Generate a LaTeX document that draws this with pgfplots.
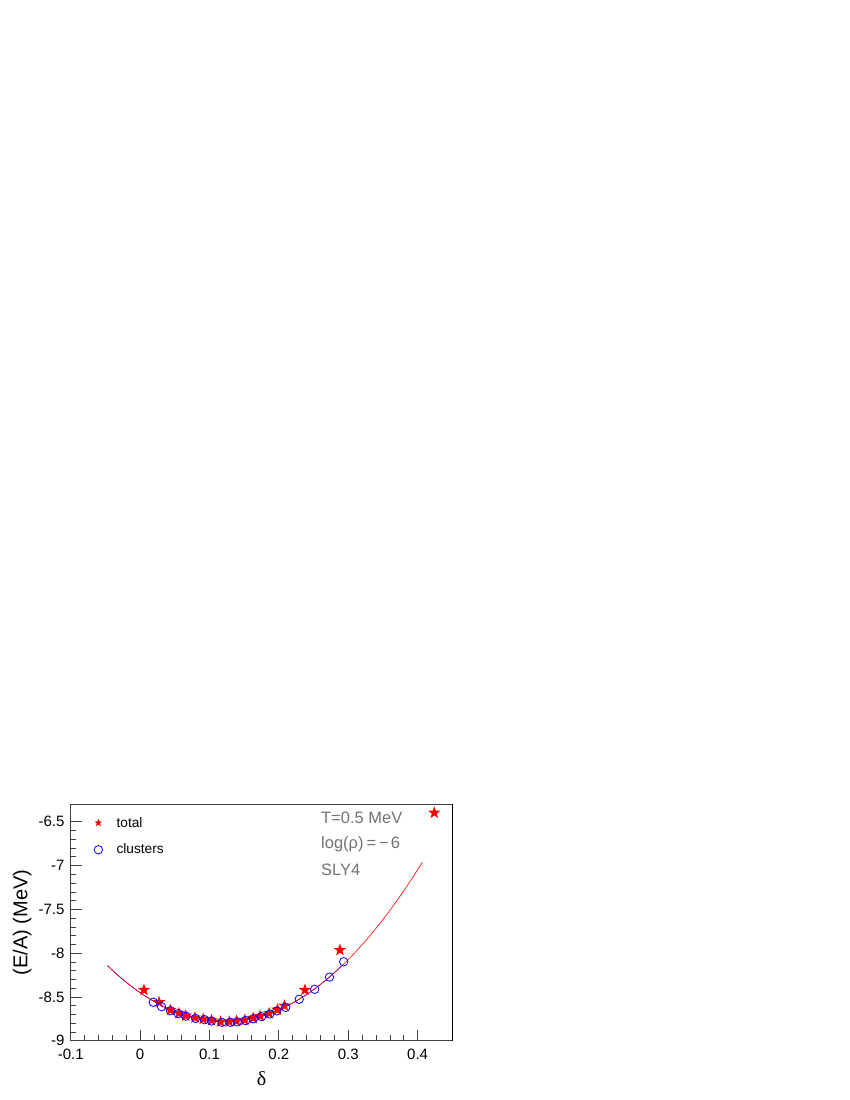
\documentclass[border=0pt]{standalone}
\usepackage{pgfplots}
\pgfplotsset{compat=1.18}
\usepackage{fontspec}
\setmainfont{Liberation Sans}
\newfontfamily\seriffont{Liberation Serif}
\pgfdeclareplotmark{fstar}{%
  \pgfpathmoveto{\pgfqpointpolar{90}{\pgfplotmarksize}}%
  \pgfpathlineto{\pgfqpointpolar{126}{0.40\pgfplotmarksize}}%
  \pgfpathlineto{\pgfqpointpolar{162}{\pgfplotmarksize}}%
  \pgfpathlineto{\pgfqpointpolar{198}{0.40\pgfplotmarksize}}%
  \pgfpathlineto{\pgfqpointpolar{234}{\pgfplotmarksize}}%
  \pgfpathlineto{\pgfqpointpolar{270}{0.40\pgfplotmarksize}}%
  \pgfpathlineto{\pgfqpointpolar{306}{\pgfplotmarksize}}%
  \pgfpathlineto{\pgfqpointpolar{342}{0.40\pgfplotmarksize}}%
  \pgfpathlineto{\pgfqpointpolar{18}{\pgfplotmarksize}}%
  \pgfpathlineto{\pgfqpointpolar{54}{0.40\pgfplotmarksize}}%
  \pgfpathclose\pgfusepathqfill}
\begin{document}
\begin{tikzpicture}[x=1pt,y=1pt]
\path[use as bounding box] (0,0) rectangle (850,1100);
\begin{axis}[
  at={(70.7pt,59.3pt)}, anchor=south west,
  scale only axis, width=381.6pt, height=236.4pt,
  xmin=-0.1, xmax=0.45, ymin=-9, ymax=-6.3,
  xtick={-0.1,0,0.1,0.2,0.3,0.4},
  ytick={-9,-8.5,-8,-7.5,-7,-6.5},
  minor x tick num=4, minor y tick num=4,
  xtick pos=left, ytick pos=left,
  major tick length=11pt, minor tick length=5.5pt,
  axis line style={black!75, line width=0.8pt},
  every tick/.style={black!75, line width=0.7pt},
  /pgf/number format/assume math mode=true,
  /pgf/number format/fixed,
  ticklabel style={font=\fontsize{15}{18}\selectfont},
  xticklabel style={yshift=-4.3pt},
  yticklabel style={xshift=-2.7pt},
  xlabel={\seriffont δ},
  xlabel style={at={(axis description cs:0.5,-0.1916)}, anchor=base, font=\fontsize{20}{24}\selectfont},
  ylabel={(E/A) (MeV)},
  ylabel style={at={(axis description cs:-0.1268,0.5)}, anchor=center, font=\fontsize{20}{24}\selectfont},
  legend style={at={(axis description cs:0.061,0.955)}, anchor=north west, draw=none, fill=none,
    font=\fontsize{13.7}{16}\selectfont, row sep=11.5pt, column sep=12pt, inner sep=0pt},
  legend cell align=left,
  clip=false,
]
% blue fit (clusters)
\addplot[blue, line width=0.6pt, smooth, forget plot] coordinates {
(-0.047,-8.143) (-0.03,-8.266) (-0.01,-8.394) (0.01,-8.503) (0.03,-8.595)
(0.05,-8.669) (0.07,-8.724) (0.09,-8.762) (0.11,-8.782) (0.13,-8.784)
(0.15,-8.767) (0.17,-8.733) (0.19,-8.681) (0.21,-8.611) (0.23,-8.523)
(0.25,-8.417) (0.27,-8.293) (0.29,-8.151)
};
% red fit (total)
\addplot[red, line width=0.6pt, smooth, forget plot] coordinates {
(-0.047,-8.143) (-0.03,-8.266) (-0.01,-8.394) (0.01,-8.503) (0.03,-8.595)
(0.05,-8.669) (0.07,-8.724) (0.09,-8.762) (0.11,-8.782) (0.13,-8.784)
(0.15,-8.767) (0.17,-8.733) (0.19,-8.681) (0.21,-8.611) (0.23,-8.523)
(0.25,-8.417) (0.27,-8.293) (0.29,-8.151) (0.31,-7.991) (0.33,-7.813)
(0.35,-7.617) (0.37,-7.403) (0.39,-7.171) (0.407,-6.960)
};
% total
\addplot[only marks, mark=fstar, mark size=6.5pt, color=red, fill=red,
  legend image post style={mark size=4.2pt}] coordinates {
(0.0056,-8.421) (0.0274,-8.561) (0.0436,-8.650) (0.056,-8.687) (0.0657,-8.715)
(0.079,-8.737) (0.091,-8.752) (0.103,-8.767) (0.116,-8.783) (0.1286,-8.783)
(0.139,-8.775) (0.151,-8.764) (0.163,-8.741) (0.173,-8.718) (0.186,-8.687)
(0.198,-8.646) (0.208,-8.600) (0.2376,-8.421) (0.288,-7.965) (0.424,-6.397)
};
\addlegendentry{total}
% clusters
\addplot[only marks, mark=o, mark size=4.2pt, color=blue, line width=0.8pt] coordinates {
(0.019,-8.561) (0.031,-8.612) (0.0437,-8.657) (0.055,-8.69) (0.066,-8.72)
(0.08,-8.745) (0.093,-8.76) (0.103,-8.775) (0.118,-8.79) (0.13,-8.79)
(0.14,-8.785) (0.152,-8.77) (0.163,-8.75) (0.175,-8.725) (0.187,-8.695)
(0.197,-8.66) (0.21,-8.62) (0.2294,-8.527) (0.2516,-8.413) (0.273,-8.273)
(0.2934,-8.098)
};
\addlegendentry{clusters}
\draw[black, line width=0.8pt] (rel axis cs:1,0) -- (rel axis cs:1,1);
\begin{scope}[every node/.style={anchor=base west, inner sep=0pt, text=black!55, font=\fontsize{16.5}{20}\selectfont}]
\node at (axis cs:0.2607,-6.518) {T=0.5 MeV};
\node at (axis cs:0.2607,-6.808) {log(ρ)\hspace{3pt}=\hspace{3pt}−\hspace{2pt}6};
\node at (axis cs:0.2607,-7.108) {SLY4};
\end{scope}
\end{axis}
\end{tikzpicture}
\end{document}
